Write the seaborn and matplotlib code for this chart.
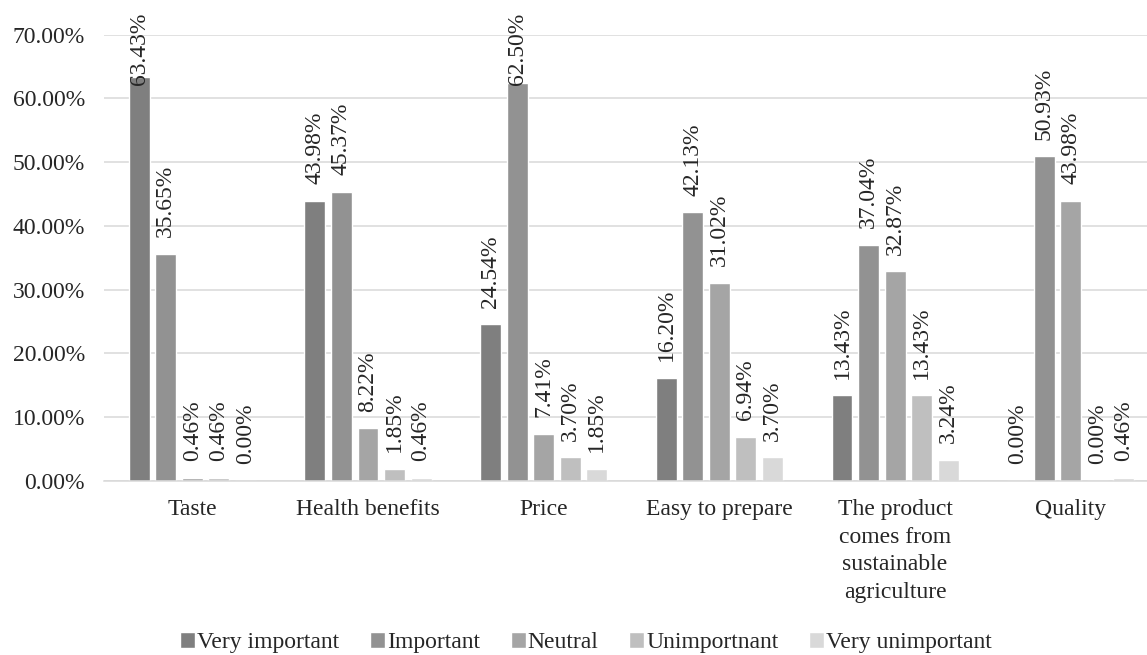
import pandas as pd
import seaborn as sns
import matplotlib.pyplot as plt

categories = ['Taste', 'Health benefits', 'Price', 'Easy to prepare',
              'The product\ncomes from\nsustainable\nagriculture', 'Quality']
levels = ['Very important', 'Important', 'Neutral', 'Unimportnant', 'Very unimportant']

very_important = [63.43, 43.98, 24.54, 16.20, 13.43, 0.00]
important = [35.65, 45.37, 62.50, 42.13, 37.04, 50.93]
neutral = [0.46, 8.22, 7.41, 31.02, 32.87, 43.98]
unimportant = [0.46, 1.85, 3.70, 6.94, 13.43, 0.00]
very_unimportant = [0.00, 0.46, 1.85, 3.70, 3.24, 0.46]

colors = ['#7f7f7f', '#929292', '#a5a5a5', '#bfbfbf', '#d9d9d9']

rows = []
for lvl, vals in zip(levels, [very_important, important, neutral, unimportant, very_unimportant]):
    for cat, v in zip(categories, vals):
        rows.append({'cat': cat, 'level': lvl, 'value': v})
df = pd.DataFrame(rows)

sns.set_style('white')
plt.rcParams['font.family'] = ['Liberation Serif', 'DejaVu Serif']

fig = plt.figure(figsize=(11.47, 6.55), dpi=100)
# plot area runs past the right edge, like the cropped original
ax = fig.add_axes([0.0911, 0.266, 0.919, 0.681])
sns.barplot(data=df, x='cat', y='value', hue='level', palette=colors,
            width=0.755, gap=0.21, ax=ax, legend=True, saturation=1)

ax.set_ylim(0, 70)
for cont in ax.containers:
    for bar, v in zip(cont, cont.datavalues):
        x = bar.get_x() + bar.get_width() / 2
        txt = f'{v:.2f}%'
        if v + 14 > 74.5:
            # label would run off the top, push it down like Excel does
            ax.text(x, 73.5, txt, rotation=90, ha='center', va='top',
                    fontsize=17, clip_on=False)
        else:
            ax.annotate(txt, (x, v), xytext=(0, 12), textcoords='offset points',
                        rotation=90, ha='center', va='bottom', fontsize=17)

ax.set_yticks(range(0, 71, 10))
ax.set_yticklabels([f'{t:.2f}%' for t in range(0, 71, 10)], fontsize=17)
ax.tick_params(axis='x', labelsize=17, length=0, pad=13)
ax.tick_params(axis='y', length=0, pad=14)
for lab in ax.get_xticklabels():
    lab.set_linespacing(1.42)
ax.grid(axis='y', color='#d9d9d9', linewidth=1.1)
ax.set_axisbelow(True)
for s in ['top', 'right', 'left']:
    ax.spines[s].set_visible(False)
ax.spines['bottom'].set_color('#d9d9d9')
ax.spines['bottom'].set_linewidth(1.1)
ax.set_xlabel('')
ax.set_ylabel('')

h, l = ax.get_legend_handles_labels()
ax.get_legend().remove()
fig.legend(h, l, loc='center left', bbox_to_anchor=(0.157, 0.019), ncol=5, frameon=False,
           fontsize=17, handlelength=0.64, handleheight=0.64, handletextpad=0.08,
           columnspacing=1.3, borderpad=0, borderaxespad=0)

fig.savefig('out.png', dpi=100)
